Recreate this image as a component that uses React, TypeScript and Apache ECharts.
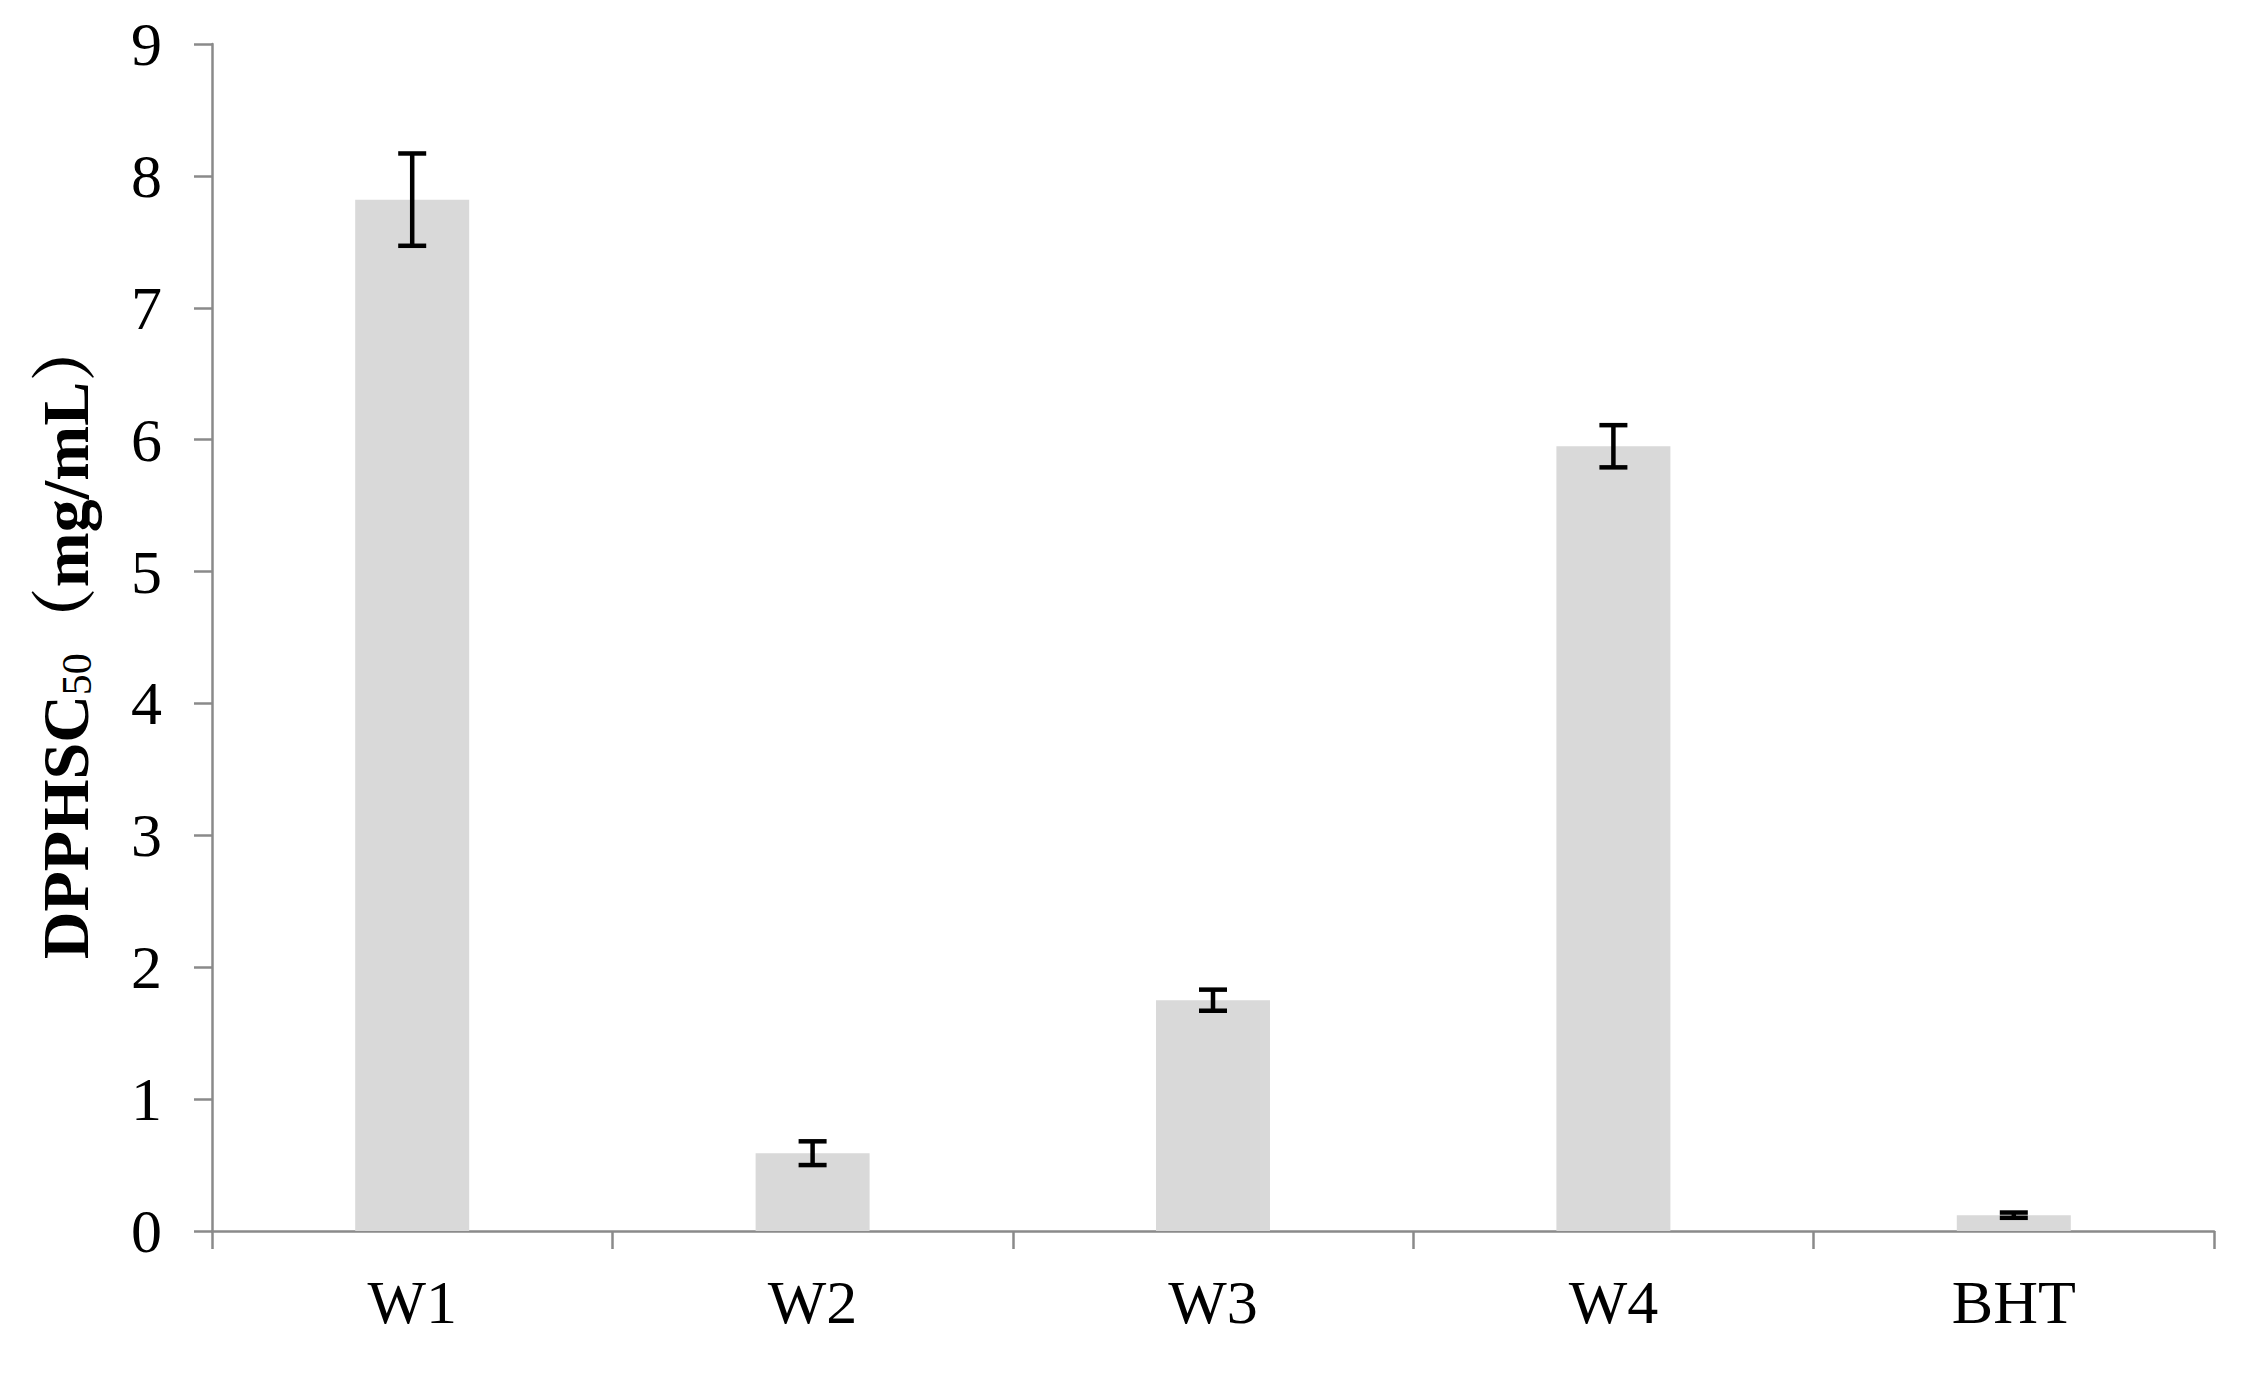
import React, { useEffect, useRef } from "react";
import * as echarts from "echarts";

const categories = ["W1", "W2", "W3", "W4", "BHT"];
const values = [7.82, 0.59, 1.75, 5.95, 0.12];
const errors = [0.35, 0.09, 0.08, 0.16, 0.02];
const yTicks = { min: 0, max: 9, interval: 1 };

const FONT = "'Liberation Serif', 'Times New Roman', 'Noto Serif CJK SC', 'Noto Sans CJK SC', serif";

export default function App() {
  const ref = useRef<HTMLDivElement>(null);
  useEffect(() => {
    if (!ref.current) return;
    const chart = echarts.init(ref.current, null, { renderer: "svg" });
    const errData = categories.map((c, i) => [i, values[i] - errors[i], values[i] + errors[i]]);
    chart.setOption({
      animation: false,
      backgroundColor: "#ffffff",
      grid: { left: 212, right: 48, top: 44, bottom: 151, containLabel: false },
      xAxis: {
        type: "category",
        data: categories,
        boundaryGap: true,
        axisLine: { show: true, lineStyle: { color: "#8a8a8a", width: 2.5 } },
        axisTick: { show: true, length: 18, lineStyle: { color: "#8a8a8a", width: 2.5 } },
        axisLabel: { color: "#000", fontFamily: FONT, fontSize: 62, margin: 40 },
        splitLine: { show: false },
      },
      yAxis: {
        type: "value",
        min: yTicks.min,
        max: yTicks.max,
        interval: yTicks.interval,
        axisLine: { show: true, lineStyle: { color: "#8a8a8a", width: 2.5 } },
        axisTick: { show: true, length: 18, lineStyle: { color: "#8a8a8a", width: 2.5 } },
        axisLabel: { color: "#000", fontFamily: FONT, fontSize: 62, margin: 50 },
        splitLine: { show: false },
        name: "DPPHSC{s|50}（mg/mL）",
        nameLocation: "middle",
        nameGap: 114,
        nameRotate: 90,
        nameTextStyle: {
          color: "#000",
          fontFamily: FONT,
          fontSize: 66,
          fontWeight: "bold",
          rich: {
            s: {
              fontFamily: FONT,
              fontSize: 42,
              fontWeight: "normal",
              color: "#000",
              verticalAlign: "bottom",
              padding: [24, 0, 0, 0],
            },
          },
        },
      },
      series: [
        {
          type: "bar",
          data: values,
          barWidth: 114,
          itemStyle: { color: "#d9d9d9" },
          z: 2,
        },
        {
          type: "custom",
          data: errData,
          z: 5,
          renderItem: (params: any, api: any) => {
            const x = api.value(0);
            const lo = api.coord([x, api.value(1)]);
            const hi = api.coord([x, api.value(2)]);
            const half = 14;
            const style = { stroke: "#000", lineWidth: 4.5, fill: null };
            return {
              type: "group",
              children: [
                { type: "line", shape: { x1: lo[0], y1: lo[1], x2: hi[0], y2: hi[1] }, style },
                { type: "line", shape: { x1: hi[0] - half, y1: hi[1], x2: hi[0] + half, y2: hi[1] }, style },
                { type: "line", shape: { x1: lo[0] - half, y1: lo[1], x2: lo[0] + half, y2: lo[1] }, style },
              ],
            };
          },
        },
      ],
    });
    return () => chart.dispose();
  }, []);
  return (
    <div
      ref={ref}
      style={{ position: "fixed", left: 0, top: 0, width: 2262, height: 1382, background: "#fff" }}
    />
  );
}
